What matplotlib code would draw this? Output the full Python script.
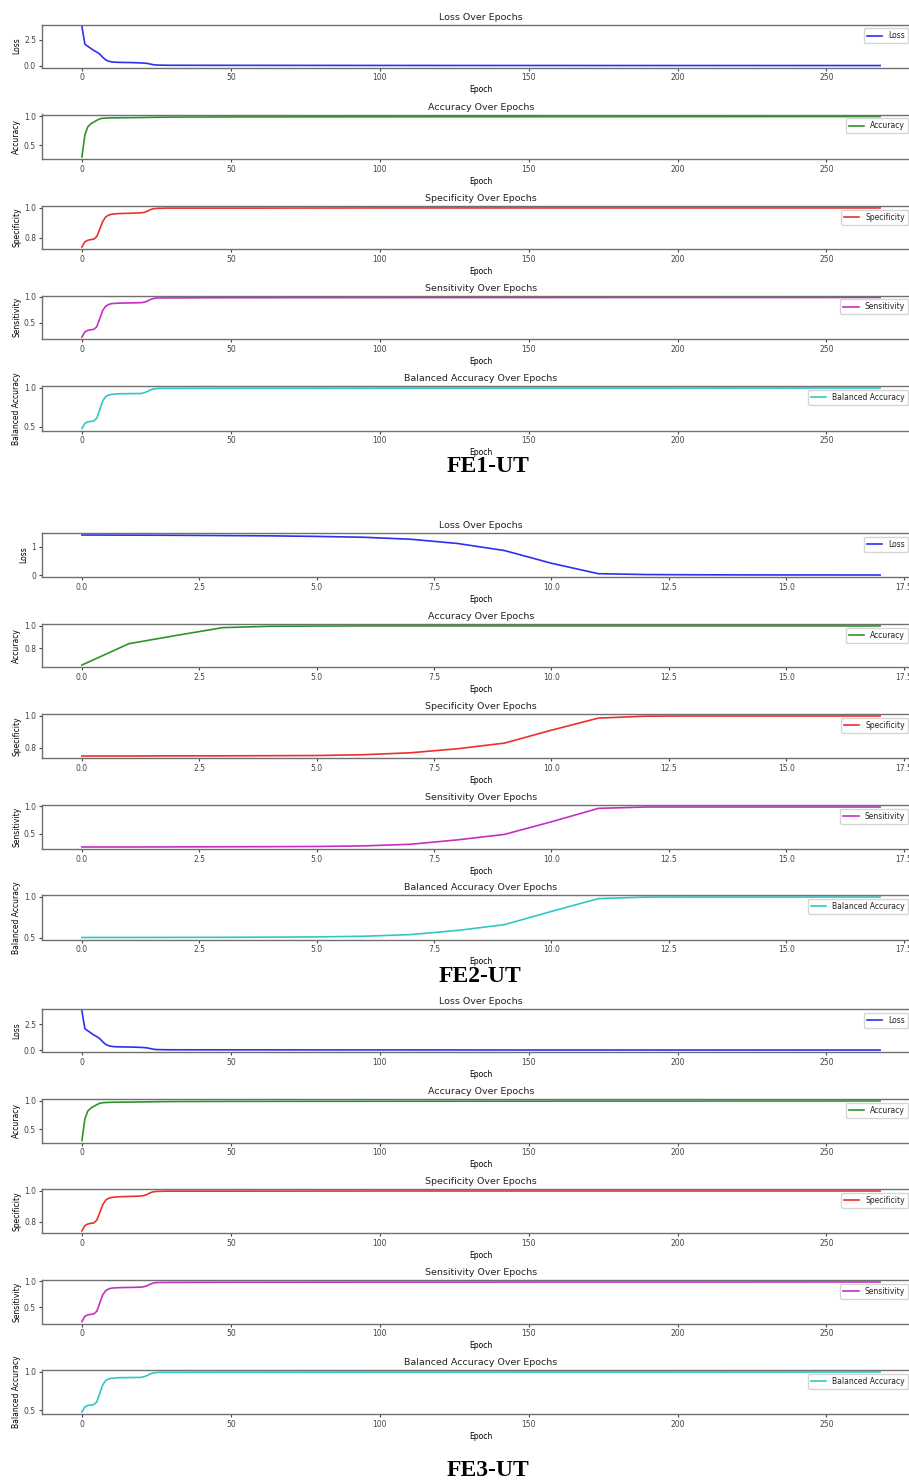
import matplotlib
matplotlib.use("Agg")
import matplotlib.pyplot as plt

# ---- data ----
# FE1-UT (and FE3-UT, which looks the same): 269 epochs, sparse after epoch 30
fe1_epochs = [0, 1, 2, 3, 4, 5, 6, 7, 8, 9, 10, 11, 12, 13, 14, 15, 16, 17, 18, 19, 20,
              21, 22, 23, 24, 25, 26, 27, 28, 29, 30, 50, 100, 150, 200, 268]
fe1_loss = [3.75, 2.05, 1.85, 1.65, 1.45, 1.30, 1.10, 0.80, 0.55, 0.42, 0.36, 0.33, 0.32,
            0.31, 0.31, 0.30, 0.30, 0.29, 0.28, 0.27, 0.26, 0.24, 0.21, 0.15, 0.09, 0.06,
            0.05, 0.045, 0.04, 0.04, 0.035, 0.03, 0.02, 0.015, 0.012, 0.01]
fe1_acc = [0.30, 0.68, 0.82, 0.87, 0.90, 0.93, 0.955, 0.965, 0.968, 0.970, 0.972, 0.973,
           0.973, 0.974, 0.974, 0.975, 0.975, 0.976, 0.977, 0.977, 0.978, 0.979, 0.980,
           0.981, 0.981, 0.982, 0.983, 0.983, 0.984, 0.984, 0.985, 0.988, 0.990, 0.992,
           0.993, 0.995]
fe1_spec = [0.74, 0.775, 0.785, 0.79, 0.792, 0.81, 0.86, 0.91, 0.94, 0.952, 0.957, 0.960,
            0.961, 0.962, 0.963, 0.963, 0.964, 0.964, 0.965, 0.966, 0.967, 0.970, 0.978,
            0.988, 0.994, 0.996, 0.997, 0.997, 0.998, 0.998, 0.998, 0.998, 0.999, 0.999,
            0.999, 0.999]
fe1_sens = [0.22, 0.32, 0.35, 0.36, 0.37, 0.42, 0.58, 0.74, 0.82, 0.855, 0.87, 0.875, 0.878,
            0.88, 0.882, 0.883, 0.884, 0.885, 0.886, 0.888, 0.89, 0.90, 0.92, 0.95, 0.97,
            0.978, 0.98, 0.981, 0.981, 0.982, 0.982, 0.985, 0.987, 0.988, 0.989, 0.99]
fe1_bal = [0.48, 0.545, 0.565, 0.57, 0.575, 0.61, 0.72, 0.83, 0.885, 0.905, 0.913, 0.917,
           0.92, 0.921, 0.922, 0.922, 0.923, 0.923, 0.924, 0.924, 0.925, 0.935, 0.95, 0.97,
           0.982, 0.987, 0.99, 0.99, 0.99, 0.99, 0.99, 0.991, 0.992, 0.993, 0.993, 0.994]

# FE2-UT: 18 epochs
fe2_epochs = list(range(18))
fe2_loss = [1.42, 1.415, 1.41, 1.40, 1.39, 1.37, 1.34, 1.27, 1.12, 0.87, 0.42, 0.05, 0.02,
            0.012, 0.008, 0.006, 0.005, 0.004]
fe2_acc = [0.652, 0.842, 0.915, 0.985, 0.997, 0.999, 1.0, 1.0, 1.0, 1.0, 1.0, 1.0, 1.0,
           1.0, 1.0, 1.0, 1.0, 1.0]
fe2_spec = [0.75, 0.75, 0.751, 0.751, 0.752, 0.753, 0.758, 0.77, 0.795, 0.83, 0.91, 0.985,
            0.997, 0.998, 0.998, 0.998, 0.998, 0.998]
fe2_sens = [0.26, 0.26, 0.262, 0.264, 0.266, 0.27, 0.28, 0.31, 0.39, 0.49, 0.72, 0.965,
            0.99, 0.99, 0.99, 0.99, 0.99, 0.99]
fe2_bal = [0.505, 0.505, 0.506, 0.507, 0.509, 0.512, 0.52, 0.54, 0.59, 0.66, 0.82, 0.975,
           0.993, 0.994, 0.994, 0.994, 0.994, 0.994]

metric_names = ["Loss", "Accuracy", "Specificity", "Sensitivity", "Balanced Accuracy"]
metric_colors = ["#2f2ff0", "#2a962a", "#ee2f2f", "#c52fc5", "#2fc8c8"]
long_xticks = [0, 50, 100, 150, 200, 250]
short_xticks = [0.0, 2.5, 5.0, 7.5, 10.0, 12.5, 15.0, 17.5]
long_yticks = [[0.0, 2.5], [0.5, 1.0], [0.8, 1.0], [0.5, 1.0], [0.5, 1.0]]
short_yticks = [[0, 1], [0.8, 1.0], [0.8, 1.0], [0.5, 1.0], [0.5, 1.0]]
group_labels = ["FE1-UT", "FE2-UT", "FE3-UT"]

# ---- layout (pixels of the 909x1483 canvas) ----
W, H = 909, 1483
AX_LEFT, AX_RIGHT = 42, 920
group_boxes = [
    [(24.5, 67.5), (114.5, 159), (206, 249), (295.5, 339), (386, 430.5)],
    [(533, 577), (624, 667), (714, 758), (805, 849), (895, 939.5)],
    [(1009, 1052), (1099, 1142.5), (1189, 1233), (1280, 1323.5), (1370, 1414)],
]
label_pos = [(488, 467), (480, 977), (488, 1470)]

plt.rcParams.update({
    "font.size": 5.5,
    "axes.titlesize": 6.8,
    "axes.labelsize": 5.5,
    "xtick.labelsize": 5.5,
    "ytick.labelsize": 5.5,
    "legend.fontsize": 5.5,
    "xtick.major.size": 2.5,
    "ytick.major.size": 2.5,
    "xtick.major.pad": 1.8,
    "ytick.major.pad": 1.8,
    "axes.edgecolor": "#707070",
    "axes.linewidth": 1.0,
    "text.color": "#222222",
    "xtick.color": "#444444",
    "ytick.color": "#444444",
})

fig = plt.figure(figsize=(W / 100, H / 100), dpi=100)


def plot_group(boxes, epochs, series, xticks, yticks, ytick_fmt):
    for (top, bottom), name, values, color, yt in zip(boxes, metric_names, series,
                                                      metric_colors, yticks):
        ax = fig.add_axes([AX_LEFT / W, 1 - bottom / H, (AX_RIGHT - AX_LEFT) / W,
                           (bottom - top) / H])
        ax.plot(epochs, values, color=color, lw=1.2, label=name)
        ax.set_title(f"{name} Over Epochs", pad=3.5)
        ax.set_xlabel("Epoch", labelpad=2)
        ax.set_ylabel(name, labelpad=2)
        ax.set_xticks(xticks)
        ax.set_yticks(yt)
        ax.set_yticklabels([ytick_fmt(v) for v in yt])
        # legend sits a little left of the (cropped) right edge
        ax.legend(loc="upper right", bbox_to_anchor=(1 - 8 / (AX_RIGHT - AX_LEFT), 1))


plot_group(group_boxes[0], fe1_epochs, [fe1_loss, fe1_acc, fe1_spec, fe1_sens, fe1_bal],
           long_xticks, long_yticks, lambda v: f"{v:.1f}")
plot_group(group_boxes[1], fe2_epochs, [fe2_loss, fe2_acc, fe2_spec, fe2_sens, fe2_bal],
           short_xticks, short_yticks, lambda v: f"{v:g}" if isinstance(v, int) else f"{v:.1f}")
plot_group(group_boxes[2], fe1_epochs, [fe1_loss, fe1_acc, fe1_spec, fe1_sens, fe1_bal],
           long_xticks, long_yticks, lambda v: f"{v:.1f}")

for text, (x, y) in zip(group_labels, label_pos):
    fig.text(x / W, 1 - y / H, text, ha="center", va="center", fontsize=17,
             fontweight="bold", family="Liberation Serif", color="black")

fig.savefig("out.png", dpi=100)
plt.close(fig)
